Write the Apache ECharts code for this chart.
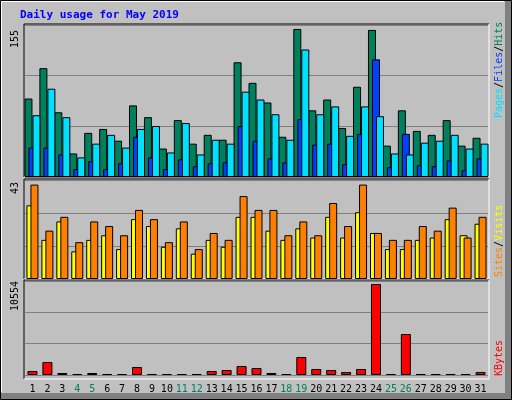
<!DOCTYPE html>
<html><head><meta charset="utf-8">
<script src="https://cdn.jsdelivr.net/npm/echarts@6/dist/echarts.min.js"></script>
<style>html,body{margin:0;padding:0;background:#c0c0c0}#c{width:512px;height:400px}</style>
</head><body><div id="c"></div>
<script>
const days = ['1','2','3','4','5','6','7','8','9','10','11','12','13','14','15','16','17','18','19','20','21','22','23','24','25','26','27','28','29','30','31'];
const weekend = ['4','5','11','12','18','19','25','26'];
const hits  = [80,111,66,24,45,49,37,73,61,29,58,34,43,38,117,96,76,41,151,68,79,50,92,150,32,68,47,43,58,32,40];
const files = [30,30,23,8,16,8,14,41,20,8,18,11,14,15,52,37,19,15,59,33,34,13,44,120,10,44,12,11,17,7,19];
const pages = [63,90,61,20,34,43,30,49,52,25,55,23,38,34,87,79,64,38,130,64,72,42,72,62,24,23,35,37,43,29,34];
const sites  = [32,17,25,12,17,19,13,26,23,14,22,11,17,14,27,27,21,17,22,18,27,18,29,20,13,13,17,18,26,19,24];
const visits = [41,21,27,16,25,23,19,30,26,16,25,13,20,17,36,30,30,19,25,19,33,23,41,20,17,17,23,21,31,18,27];
const kbytes = [464,1508,232,116,232,116,116,928,116,116,116,116,464,580,1044,812,232,116,2088,696,580,348,696,10554,116,4755,116,116,116,116,348];
const maxLabels = ['155','43','10554'];

const mono = '"DejaVu Sans Mono", monospace';
const grids = [
  {left:25, right:24, top:25, height:152},
  {left:25, right:24, top:180, height:99},
  {left:25, right:24, top:281, height:94}
];
const ymax = [155, 43, 10900];
function xa(i){return {type:'category', gridIndex:i, data:days, axisTick:{show:false}, axisLine:{show:false},
  axisLabel:{show:i===2, interval:0, margin:9, fontFamily:mono, fontSize:10, color:(v)=>weekend.includes(v)?'#00805c':'#000'}};}
function ya(i){return {type:'value', gridIndex:i, min:0, max:ymax[i], interval:ymax[i]/3, axisLabel:{show:false},
  axisLine:{show:false}, axisTick:{show:false}, splitLine:{lineStyle:{color:'#808080', width:1}}};}
const bs = {borderColor:'#000', borderWidth:1};
function frame(g, bottom){
  const x1=g.left-1, x2=512-g.right+1, y1=g.top-1, y2=bottom;
  return [
    {type:'line', shape:{x1:x1,y1:y1,x2:x2,y2:y1}, style:{stroke:'#000',lineWidth:1}},
    {type:'line', shape:{x1:x1,y1:y1,x2:x1,y2:y2}, style:{stroke:'#000',lineWidth:1}},
    {type:'line', shape:{x1:x1,y1:y2,x2:x2,y2:y2}, style:{stroke:'#fff',lineWidth:1}},
    {type:'line', shape:{x1:x2,y1:y1,x2:x2,y2:y2}, style:{stroke:'#fff',lineWidth:1}}
  ];
}
const F = '10px '+mono;
function vtext(x,y,text,rich,color){
  return {type:'text', x:x, y:y, rotation:Math.PI/2, style:{text:text, rich:rich, fill:color||'#000', font:F, align:'left', verticalAlign:'middle'}};
}
const chart = echarts.init(document.getElementById('c'));
chart.setOption({
  backgroundColor:'#c0c0c0',
  animation:false,
  grid:grids.map(g=>Object.assign({show:true, backgroundColor:'#c0c0c0', borderWidth:0}, g)),
  xAxis:[xa(0),xa(1),xa(2)],
  yAxis:[ya(0),ya(1),ya(2)],
  series:[
    {type:'bar', xAxisIndex:0, yAxisIndex:0, data:hits, barWidth:8, barGap:'-75%', itemStyle:Object.assign({color:'#00805c'},bs)},
    {type:'bar', xAxisIndex:0, yAxisIndex:0, data:files, barWidth:8, barGap:'-75%', itemStyle:Object.assign({color:'#0040ff'},bs)},
    {type:'bar', xAxisIndex:0, yAxisIndex:0, data:pages, barWidth:8, barGap:'-50%', itemStyle:Object.assign({color:'#00e0ff'},bs)},
    {type:'bar', xAxisIndex:1, yAxisIndex:1, data:sites, barWidth:8, barGap:'-50%', itemStyle:Object.assign({color:'#ffff00'},bs)},
    {type:'bar', xAxisIndex:1, yAxisIndex:1, data:visits, barWidth:8, barGap:'-50%', itemStyle:Object.assign({color:'#ff8000'},bs)},
    {type:'bar', xAxisIndex:2, yAxisIndex:2, data:kbytes, barWidth:10, itemStyle:Object.assign({color:'#ff0000'},bs)}
  ],
  graphic:[
    {type:'rect', shape:{x:0.5,y:0.5,width:511,height:399}, style:{fill:null, stroke:'#000', lineWidth:1}, silent:true},
    {type:'rect', shape:{x:505,y:1,width:6,height:398}, style:{fill:'#808080'}},
    {type:'rect', shape:{x:1,y:393,width:510,height:6}, style:{fill:'#808080'}},
    {type:'line', shape:{x1:1.5,y1:1.5,x2:504,y2:1.5}, style:{stroke:'#fff',lineWidth:1}},
    {type:'line', shape:{x1:1.5,y1:1.5,x2:1.5,y2:392}, style:{stroke:'#fff',lineWidth:1}},
    {type:'text', x:20, y:15, style:{text:'Daily usage for May 2019', fill:'#0000ff', font:'bold 11px '+mono, verticalAlign:'middle'}},
    ...frame(grids[0],177), ...frame(grids[1],279), ...frame(grids[2],379),
    vtext(15,48,maxLabels[0]), vtext(15,194,maxLabels[1]), vtext(15,311,maxLabels[2]),
    vtext(499,118,'{p|Pages}/{f|Files}/{h|Hits}',{p:{fill:'#00e0ff',font:F},f:{fill:'#0040ff',font:F},h:{fill:'#00805c',font:F}}),
    vtext(499,277,'{s|Sites}/{v|Visits}',{s:{fill:'#ff8000',font:F},v:{fill:'#ffff00',font:F}}),
    vtext(499,376,'KBytes',null,'#ff0000')
  ]
});
</script></body></html>
